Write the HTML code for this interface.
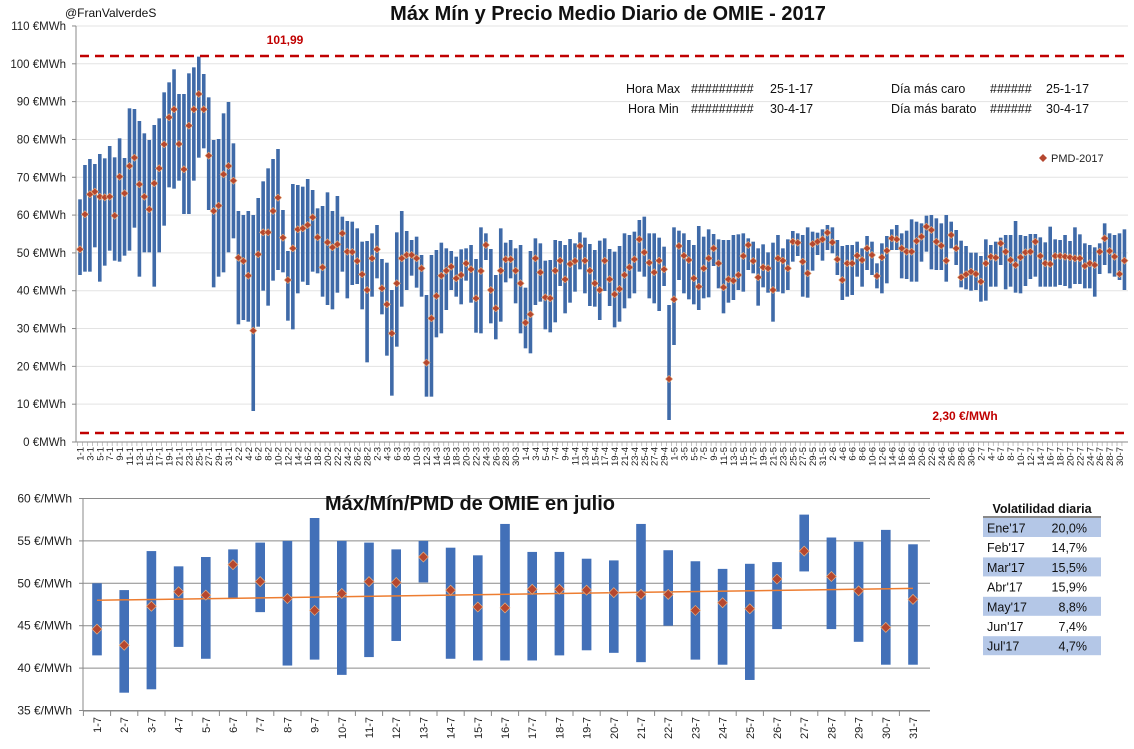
<!DOCTYPE html>
<html><head><meta charset="utf-8"><style>
body{margin:0;background:#fff;width:1134px;height:749px;overflow:hidden;font-family:"Liberation Sans",sans-serif}
svg{display:block}
</style></head><body>
<svg id="s" width="1134" height="749" xmlns="http://www.w3.org/2000/svg" font-family="Liberation Sans, sans-serif"></svg>
<script>
var s=document.getElementById('s'),h='';
function T(x,y,t,o){h+='<text x="'+x+'" y="'+y+'" '+(o||'')+'>'+t+'</text>';}
// ---------- top chart ----------
var Z1=[[478,705,628],[375,695,523],[357,695,463],[372,622,455],[342,725,470],[355,677,472],[318,632,470],[352,662,527],[295,665,410],[354,647,460],[205,632,378],[207,563,353],[243,710,433],[280,637,470],[300,637,508],[255,740,430],[235,637,385],[157,557,313],[127,442,232],[88,446,208],[162,422,312],[162,522,388],[100,522,257],[82,422,208],[50,353,162],[102,325,208],[172,510,347],[300,742,513],[297,710,497],[220,697,403],[186,637,378],[310,595,422],[513,853,653],[525,840,663],[513,845,707],[525,1113,872],[474,860,643],[424,752,577],[385,797,577],[357,722,513],[327,690,473],[510,697,593],[633,842,720],[432,868,625],[435,760,568],[440,725,565],[417,735,555],[450,695,532],[505,700,592],[498,770,682],[457,795,607],[513,808,622],[468,758,613],[530,695,580],[543,775,635],[545,735,636],[565,732,663],[605,808,703],[603,967,750],[580,770,655],[555,715,628],[657,823,745],[668,947,793],[750,1067,880],[577,920,730],[513,800,655],[573,750,645],[600,707,645],[590,743,655],[645,770,685]];
var Z2=[[345,650,548],[225,650,415],[210,472,348],[188,460,287],[205,390,272],[213,330,260],[230,350,295],[208,373,285],[205,302,250],[195,368,268],[237,458,355],[142,460,273],[160,240,195],[207,430,330],[285,478,385],[145,425,272],[188,307,238],[180,295,238],[205,370,272],[195,460,310],[323,505,428],[213,520,403],[175,375,235],[190,365,277],[242,448,352],[240,457,355],[180,427,272],[183,318,242],[195,400,298],[177,368,252],[190,335,243],[157,268,198],[173,340,242],[192,378,272],[210,380,310],[182,420,330],[175,333,242],[207,378,298],[215,442,343],[198,425,327],[160,385,285],[165,355,262],[155,340,238],[120,275,178],[110,290,217],[160,355,248],[160,370,277],[173,393,242],[200,318,268],[375,720,597],[142,495,358],[152,300,198],[160,340,227],[180,358,240],[195,373,295],[138,390,320],[170,355,265],[148,352,235],[162,258,205],[178,325,250],[180,400,322],[180,368,298],[165,360,302],[163,330,285],[160,335,228],[175,270,195],[185,280,243],[205,377,292],[193,322,262],[217,338,265],[188,425,330],
[165,335,235],[205,340,242],[178,330,265],[153,245,185],[160,228,188],[165,350,245],[142,353,280],[155,272,192],[158,225,185],[148,242,178],[135,210,158],[142,220,187],[180,285,238],[198,360,300],[195,350,250],[195,345,250],[185,290,227],[205,320,240],[168,270,205],[185,285,225],[250,325,288],[190,340,232],[168,310,212],[148,210,175],[135,210,178],[160,295,205],[152,297,215],[118,305,215],[125,305,183],[130,245,170],[107,215,140],[105,268,150],[115,270,185],[130,270,197],[105,305,242],[125,205,165],[150,255,205],[182,322,292],[198,328,283],[218,332,275],[218,330,282],[228,365,305],[178,362,250],[195,320,230],[185,320,233],[173,255,190],[165,328,215],[165,320,240],[123,338,255],[165,340,232],[168,318,217],[162,297,215],[162,290,185],[172,320,228],[187,320,250],[140,320,252],[178,320,228],[180,315,228],[165,318,230],[183,325,232],[142,312,235],[163,312,235],[190,325,258],[195,325,250],[202,350,255],[190,282,215],[130,255,175],[160,280,213],[165,290,230],[160,300,282],[148,330,242]];
var D=[];Z1.forEach(function(a){D.push(a.map(function(z){return 40+z/3}))});
Z2.forEach(function(a){D.push(a.map(function(z){return 180+z/3}))});
function Y1(v){return 442-v*3.782}
// gridlines & y labels
for(var v=0;v<=110;v+=10){var y=Y1(v);h+='<line x1="76" x2="1128" y1="'+y+'" y2="'+y+'" stroke="#e3e3e3" stroke-width="1"/>';
h+='<line x1="72" x2="76" y1="'+y+'" y2="'+y+'" stroke="#888"/>';
T(66,y+4,v+' €MWh','font-size="11.5" text-anchor="end" fill="#222"');}
h+='<line x1="76" x2="76" y1="26" y2="442" stroke="#888"/><line x1="76" x2="1128" y1="442" y2="442" stroke="#888"/>';
// bars
var dm=['1','31','28','31','30','31','30','31'],mo=[31,28,31,30,31,30,31];
for(var i=0;i<D.length;i++){var x=80+4.95*i,d=D[i];
h+='<rect x="'+(x-1.8)+'" y="'+d[0]+'" width="3.6" height="'+(d[1]-d[0])+'" fill="#3f6aa8"/>';}
for(var i=0;i<D.length;i++){var x=80+4.95*i,p=D[i][2];
h+='<path d="M'+x+' '+(p-3.6)+'L'+(x+3.6)+' '+p+'L'+x+' '+(p+3.6)+'L'+(x-3.6)+' '+p+'Z" fill="#b5472f" stroke="#e8b080" stroke-width="0.6"/>';}
// x labels
var i=0;for(var m=0;m<7;m++)for(var dd=1;dd<=mo[m];dd++){if(i%2==0){var x=80+4.95*i;
h+='<text transform="translate('+(x+3.5)+',447) rotate(-90)" font-size="9.5" text-anchor="end" fill="#222">'+dd+'-'+(m+1)+'</text>';}
h+='<line x1="'+(80+4.95*i-2.5)+'" x2="'+(80+4.95*i-2.5)+'" y1="442" y2="446" stroke="#999" stroke-width="0.6"/>';i++;}
// red dashed
h+='<line x1="80" x2="1128" y1="56" y2="56" stroke="#c00000" stroke-width="2.4" stroke-dasharray="9,6"/>';
h+='<line x1="80" x2="1128" y1="433" y2="433" stroke="#c00000" stroke-width="2.4" stroke-dasharray="9,6"/>';
T(285,44,'101,99','font-size="12" font-weight="bold" fill="#c00000" text-anchor="middle"');
T(965,420,'2,30 €/MWh','font-size="12" font-weight="bold" fill="#c00000" text-anchor="middle"');
// title etc
T(608,20,'Máx Mín y Precio Medio Diario de OMIE - 2017','font-size="20" font-weight="bold" text-anchor="middle" fill="#111"');
T(65,17,'@FranValverdeS','font-size="12" fill="#111"');
var st='font-size="12.5" fill="#111"';
T(626,93,'Hora Max',st);T(691,93,'#########',st);T(770,93,'25-1-17',st);
T(628,113,'Hora Min',st);T(691,113,'#########',st);T(770,113,'30-4-17',st);
T(891,93,'Día más caro',st);T(990,93,'######',st);T(1046,93,'25-1-17',st);
T(891,113,'Día más barato',st);T(990,113,'######',st);T(1046,113,'30-4-17',st);
h+='<path d="M1043 154L1047 158L1043 162L1039 158Z" fill="#b5472f"/>';
T(1051,162,'PMD-2017','font-size="11" fill="#222"');
// ---------- bottom chart ----------
function Y2(v){return 498.5+(60-v)*8.48}
for(var v=35;v<=60;v+=5){var y=Y2(v);h+='<line x1="83" x2="930" y1="'+y+'" y2="'+y+'" stroke="#8a8a8a" stroke-width="1"/>';
h+='<line x1="79" x2="83" y1="'+y+'" y2="'+y+'" stroke="#888"/>';
T(72,y+4,v+' €/MWh','font-size="12" text-anchor="end" fill="#222"');}
h+='<line x1="83" x2="83" y1="498" y2="711" stroke="#888"/>';
var J=[[50,41.5,44.6],[49.2,37.1,42.7],[53.8,37.5,47.3],[52,42.5,49],[53.1,41.1,48.6],[54,48.2,52.2],[54.8,46.6,50.2],[55,40.3,48.2],[57.7,41,46.8],[55,39.2,48.8],[54.8,41.3,50.2],[54,43.2,50.1],[55,50.1,53.1],[54.2,41.1,49.2],[53.3,40.9,47.2],[57,40.9,47.1],[53.7,40.9,49.3],[53.7,41.5,49.3],[52.9,42.1,49.2],[52.7,41.8,48.9],[57,40.7,48.7],[53.9,45,48.7],[52.6,41,46.8],[51.7,40.4,47.7],[52.3,38.6,47],[52.5,44.6,50.5],[58.1,51.4,53.8],[55.4,44.6,50.8],[54.9,43.1,49.1],[56.3,40.4,44.8],[54.6,40.4,48.1]];
for(var k=0;k<31;k++){var x=97+27.2*k;h+='<rect x="'+(x-4.8)+'" y="'+Y2(J[k][0])+'" width="9.6" height="'+(Y2(J[k][1])-Y2(J[k][0]))+'" fill="#4270b8"/>';
h+='<line x1="'+(x-13.6)+'" x2="'+(x-13.6)+'" y1="711" y2="716" stroke="#888"/>';
h+='<text transform="translate('+(x+4)+',717) rotate(-90)" font-size="11" text-anchor="end" fill="#222">'+(k+1)+'-7</text>';}
h+='<line x1="83" x2="930" y1="711" y2="711" stroke="#888"/>';
h+='<line x1="97" x2="913" y1="'+Y2(48)+'" y2="'+Y2(49.4)+'" stroke="#ed7d31" stroke-width="1.5"/>';
for(var k=0;k<31;k++){var x=97+27.2*k,p=Y2(J[k][2]);
h+='<path d="M'+x+' '+(p-5)+'L'+(x+5)+' '+p+'L'+x+' '+(p+5)+'L'+(x-5)+' '+p+'Z" fill="#b5472f" stroke="#e8b080" stroke-width="0.7"/>';}
T(470,510,'Máx/Mín/PMD de OMIE en julio','font-size="20" font-weight="bold" text-anchor="middle" fill="#111"');
// table
T(1042,513,'Volatilidad diaria','font-size="12.5" font-weight="bold" text-anchor="middle" fill="#111"');
h+='<line x1="983" x2="1101" y1="517" y2="517" stroke="#111" stroke-width="1"/>';
var R=[['Ene\'17','20,0%'],['Feb\'17','14,7%'],['Mar\'17','15,5%'],['Abr\'17','15,9%'],['May\'17','8,8%'],['Jun\'17','7,4%'],['Jul\'17','4,7%']];
for(var r=0;r<7;r++){var y=518+r*19.7;if(r%2==0)h+='<rect x="983" y="'+y+'" width="118" height="19" fill="#b4c7e7"/>';
T(987,y+14.5,R[r][0],'font-size="12.5" fill="#111"');T(1087,y+14.5,R[r][1],'font-size="12.5" fill="#111" text-anchor="end"');}
s.innerHTML=h;
</script>
</body></html>
